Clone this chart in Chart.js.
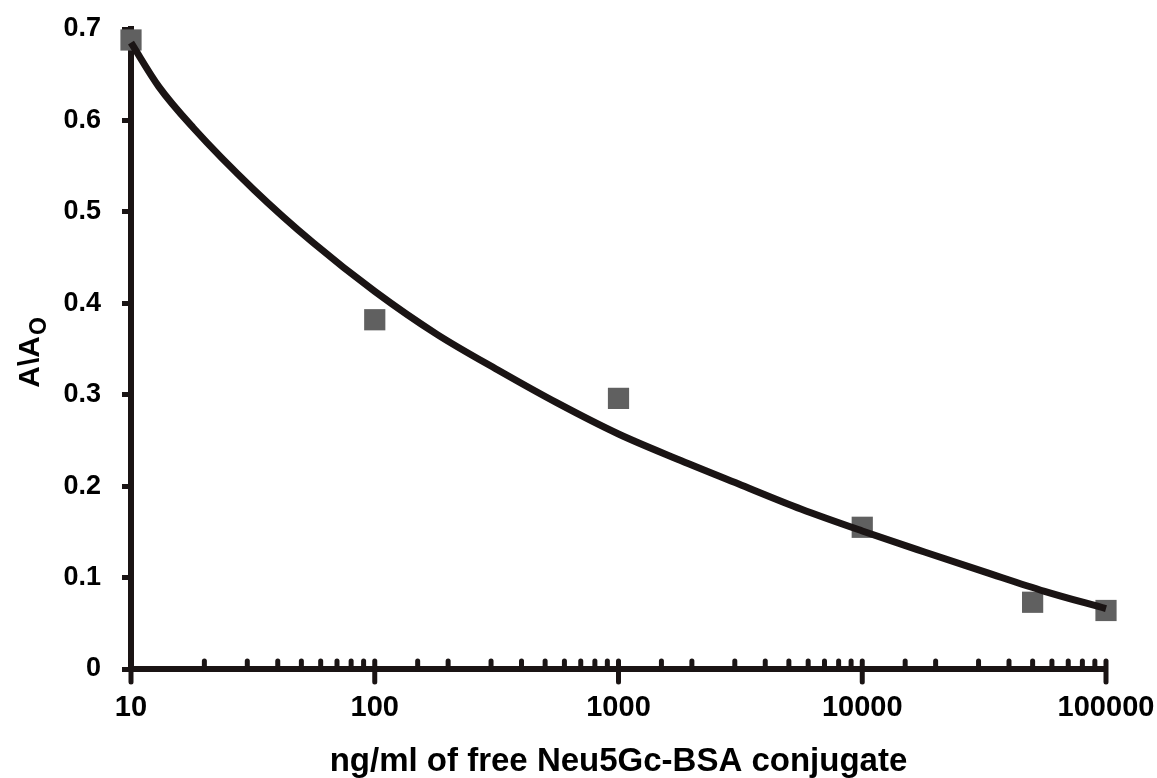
<!DOCTYPE html>
<html>
<head>
<meta charset="utf-8">
<script src="https://cdn.jsdelivr.net/npm/chart.js@4/dist/chart.umd.min.js"></script>
<style>
  html, body { margin: 0; padding: 0; background: #fff; }
  #wrap { width: 1157px; height: 778px; }
</style>
</head>
<body>
<div id="wrap"><canvas id="inhibitionChart" width="1157" height="778"></canvas></div>
<script>
// measured points (gray squares)
const pointConc = [10, 100, 1000, 10000, 50000, 100000];
const pointRatio = [0.688, 0.382, 0.296, 0.155, 0.073, 0.064];

// fitted curve
const curveConc = [10, 13, 18, 32, 56, 100, 180, 320, 560, 1000, 1800, 3200, 5600, 10000, 18000, 32000, 56000, 100000];
const curveRatio = [0.685, 0.637, 0.592, 0.524, 0.466, 0.413, 0.366, 0.327, 0.291, 0.257, 0.228, 0.201, 0.175, 0.151, 0.128, 0.106, 0.085, 0.066];

const yTicks = [0, 0.1, 0.2, 0.3, 0.4, 0.5, 0.6, 0.7];
const xMajor = [10, 100, 1000, 10000, 100000];

const boldFont = "'Liberation Sans', Arial, sans-serif";

// draws the little tick stubs on the log axis and the y title with its subscript
const axisExtras = {
    id: 'axisExtras',
    afterDatasetsDraw(chart) {
        const ctx = chart.ctx;
        const xs = chart.scales.x;
        const bottom = chart.chartArea.bottom;
        ctx.save();
        ctx.strokeStyle = '#1a1414';
        ctx.lineWidth = 5;
        ctx.lineCap = 'round';
        xs.ticks.forEach(t => {
            const px = xs.getPixelForValue(t.value);
            const isMajor = xMajor.includes(t.value);
            ctx.beginPath();
            if (isMajor) {
                ctx.moveTo(px, bottom - 8);
                ctx.lineTo(px, bottom + 13);
            } else {
                ctx.moveTo(px, bottom - 8);
                ctx.lineTo(px, bottom);
            }
            ctx.stroke();
        });
        ctx.restore();

        // y title: A\A with subscript O
        ctx.save();
        ctx.translate(39, (chart.chartArea.top + bottom) / 2 + 4);
        ctx.rotate(-Math.PI / 2);
        ctx.fillStyle = '#000';
        ctx.textBaseline = 'alphabetic';
        const main = 'A\\A';
        ctx.font = "bold 30px " + boldFont;
        const w1 = ctx.measureText(main).width;
        ctx.font = "bold 23px " + boldFont;
        const w2 = ctx.measureText('O').width;
        const start = -(w1 + w2) / 2;
        ctx.font = "bold 30px " + boldFont;
        ctx.fillText(main, start, 0);
        ctx.font = "bold 23px " + boldFont;
        ctx.fillText('O', start + w1 + 1, 7);
        ctx.restore();
    }
};

document.addEventListener("DOMContentLoaded", () => {
    const ctx = document.getElementById('inhibitionChart').getContext('2d');
    const inhibitionChart = new Chart(ctx, {
        type: 'scatter',
        data: {
            datasets: [{
                type: 'line',
                label: 'fit',
                data: curveConc.map((c, i) => ({ x: c, y: curveRatio[i] })),
                borderColor: '#1a1414',
                borderWidth: 7,
                pointRadius: 0,
                cubicInterpolationMode: 'monotone',
                fill: false,
                clip: false,
                order: 0
            }, {
                label: 'A/A0',
                data: pointConc.map((c, i) => ({ x: c, y: pointRatio[i] })),
                pointStyle: 'rect',
                pointRadius: 15,
                pointBorderWidth: 0,
                backgroundColor: '#606060',
                borderColor: '#606060',
                clip: false,
                order: 1
            }]
        },
        options: {
            responsive: false,
            animation: false,
            layout: { padding: { top: 29, right: 51, left: 0, bottom: 0 } },
            plugins: {
                legend: { display: false },
                tooltip: { enabled: false }
            },
            scales: {
                x: {
                    type: 'logarithmic',
                    min: 10,
                    max: 100000,
                    border: { display: true, color: '#1a1414', width: 6 },
                    grid: { display: false, drawTicks: false },
                    ticks: {
                        autoSkip: false,
                        maxRotation: 0,
                        padding: 22,
                        color: '#000',
                        font: { family: boldFont, size: 29, weight: 'bold' },
                        callback: function(value) {
                            return xMajor.includes(value) ? String(value) : '';
                        }
                    },
                    title: {
                        display: true,
                        text: 'ng/ml of free Neu5Gc-BSA conjugate',
                        color: '#000',
                        padding: { top: 0, bottom: 0 },
                        font: { family: boldFont, size: 33, weight: 'bold', lineHeight: 1 }
                    },
                    afterFit(scale) {
                        scale.height = 109;
                        scale.paddingLeft = 0;
                        scale.paddingRight = 0;
                    }
                },
                y: {
                    min: 0,
                    max: 0.7,
                    afterBuildTicks(scale) { scale.ticks = yTicks.map(v => ({ value: v })); },
                    border: { display: true, color: '#1a1414', width: 6 },
                    grid: {
                        drawOnChartArea: false,
                        drawTicks: true,
                        tickLength: 9,
                        lineWidth: 5,
                        color: '#1a1414'
                    },
                    ticks: {
                        padding: 21,
                        color: '#000',
                        font: { family: boldFont, size: 27, weight: 'bold' },
                        callback: function(value) {
                            return value === 0 ? '0' : value.toFixed(1);
                        }
                    },
                    afterFit(scale) {
                        scale.width = 131;
                        scale.paddingTop = 0;
                        scale.paddingBottom = 0;
                    }
                }
            }
        },
        plugins: [axisExtras]
    });
});
</script>
</body>
</html>
